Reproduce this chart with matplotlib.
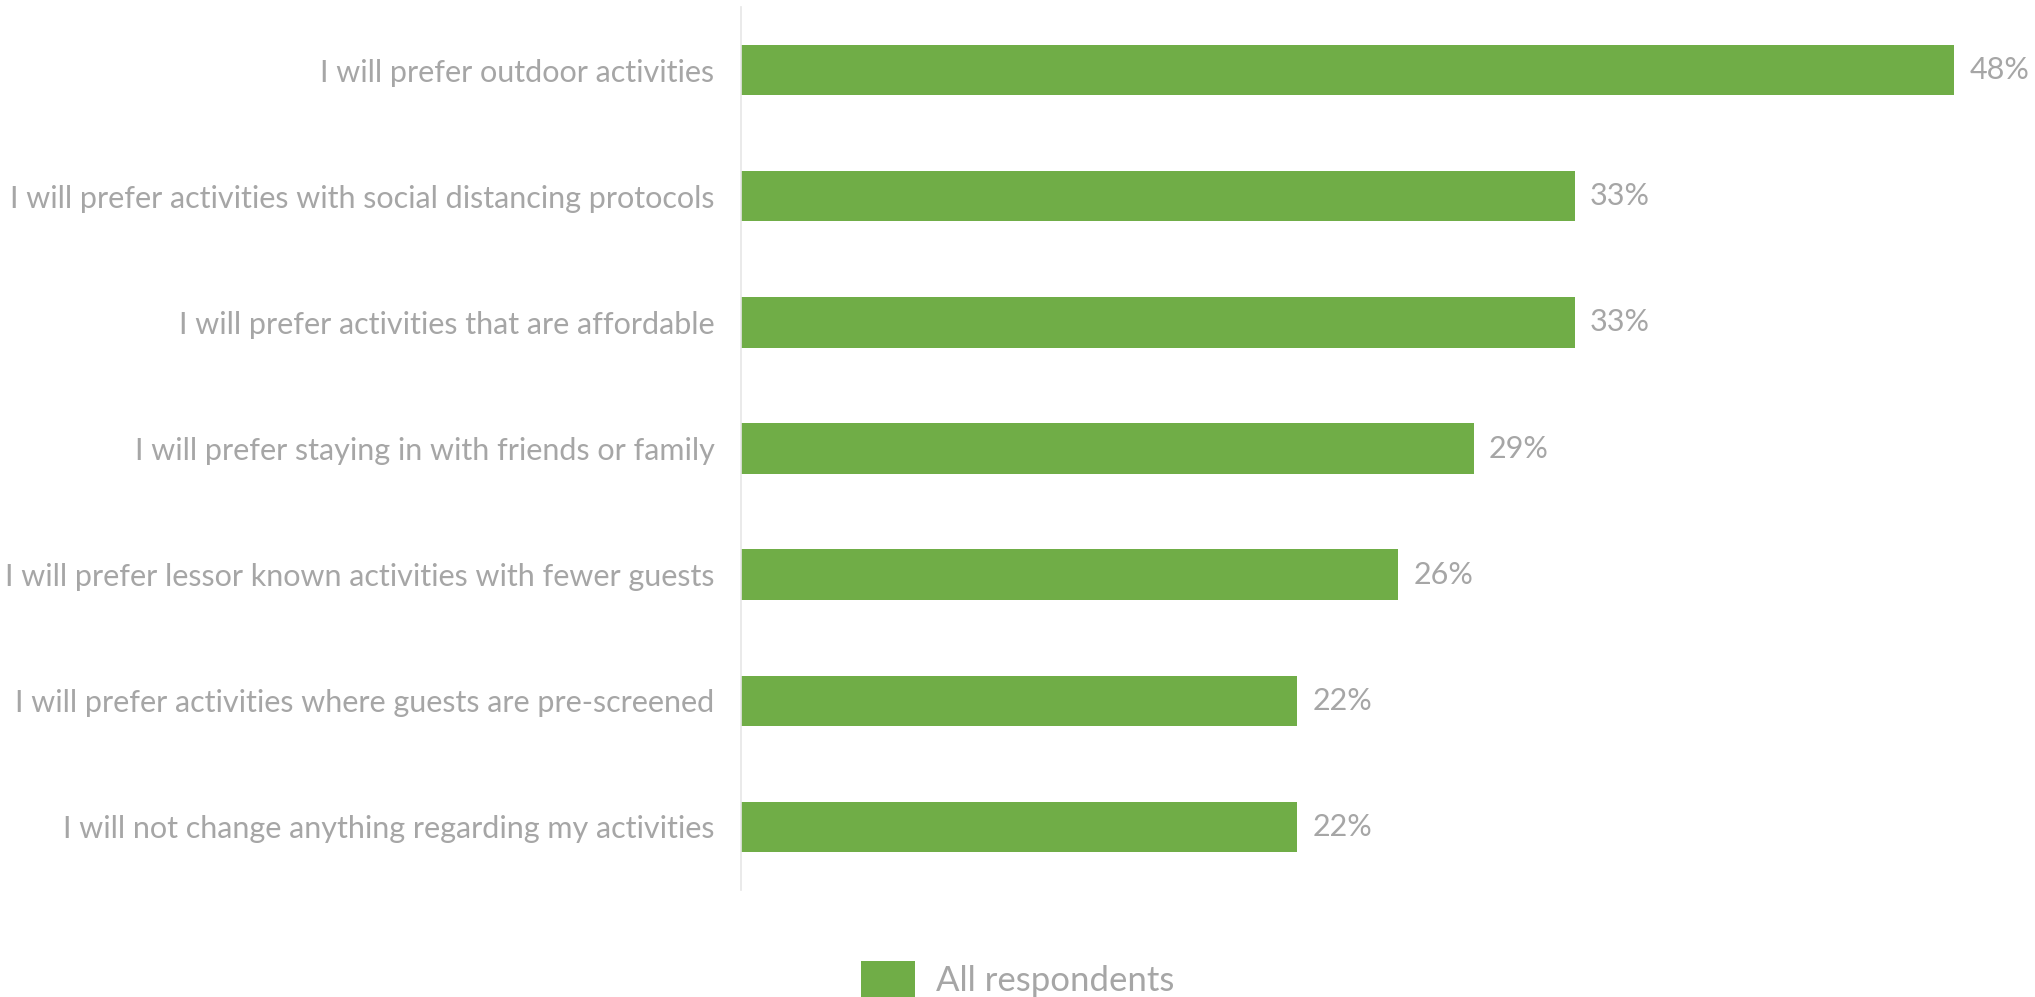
import matplotlib.pyplot as plt
from matplotlib.patches import Patch

categories = [
    'I will prefer outdoor activities',
    'I will prefer activities with social distancing protocols',
    'I will prefer activities that are affordable',
    'I will prefer staying in with friends or family',
    'I will prefer lessor known activities with fewer guests',
    'I will prefer activities where guests are pre-screened',
    'I will not change anything regarding my activities',
]
values = [48, 33, 33, 29, 26, 22, 22]
series_name = 'All respondents'

green = '#70AD47'
grey_text = '#A6A6A6'

plt.rcParams['font.family'] = ['Lato', 'DejaVu Sans']

fig = plt.figure(figsize=(20.35, 9.97), dpi=100)
ax = fig.add_axes([0.3641, 0.1073, 0.6359, 0.8857])

pos = list(range(len(categories)))
ax.barh(pos, values, height=0.4, color=green)

for y, v in zip(pos, values):
    ax.text(v + 0.6, y, f'{v}%', va='center', ha='left', fontsize=22, color=grey_text)

ax.set_ylim(len(categories) - 0.5, -0.5)
ax.set_xlim(0, 51.2)
ax.set_yticks(pos)
ax.set_yticklabels(categories, fontsize=22, color=grey_text)
ax.tick_params(axis='y', length=0, pad=19)
ax.set_xticks([])

for side in ['top', 'right', 'bottom']:
    ax.spines[side].set_visible(False)
ax.spines['left'].set_color('#E6E6E6')
ax.spines['left'].set_linewidth(1.2)

# legend hugs the bottom edge; the swatch runs off the page
handles = [Patch(facecolor=green, label=series_name)]
fig.legend(handles=handles, loc='lower left', bbox_to_anchor=(861 / 2035, -0.001),
           borderaxespad=0, borderpad=0, frameon=False, fontsize=25,
           labelcolor=grey_text, handlelength=1.55, handleheight=1.25,
           handletextpad=0.6)

fig.savefig('out.png', dpi=100)
